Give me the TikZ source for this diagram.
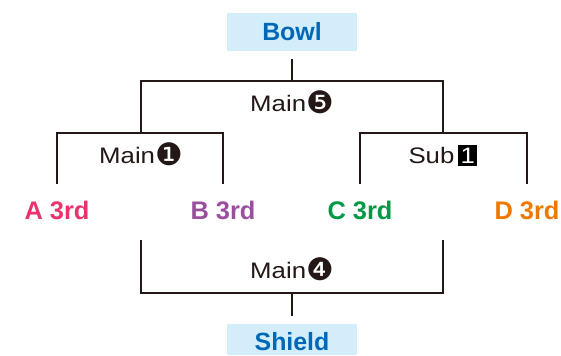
\documentclass[tikz,border=0pt]{standalone}
\usepackage{fontspec}
\setmainfont{Liberation Sans}
\newfontfamily\matchfont[FakeStretch=1.15]{Liberation Sans}
\newfontfamily\dingfont{DejaVu Sans}
\usepackage{xcolor}

\definecolor{finalblue}{HTML}{0068B7}
\definecolor{finalfill}{HTML}{D3EDFB}
\definecolor{teamA}{HTML}{E8336D}
\definecolor{teamB}{HTML}{9A4E9E}
\definecolor{teamC}{HTML}{009944}
\definecolor{teamD}{HTML}{EE7800}
\definecolor{linecol}{HTML}{231815}

\newcommand{\numbox}[1]{{\setlength{\fboxsep}{2.5bp}\colorbox{black}{\textcolor{white}{#1}}}}
\newcommand{\numcirc}[1]{{\dingfont\fontsize{31}{31}\selectfont\raisebox{-2.5bp}{#1}}}

\begin{document}
\begin{tikzpicture}[x=1bp,y=-1bp,%
% common options for the two final boxes:
final/.style = {fill=finalfill, text=finalblue, font=\fontsize{25}{25}\selectfont\bfseries,
            minimum width=130bp, minimum height=38bp, inner sep=0},
% team names:
team/.style = {font=\fontsize{25.5}{25.5}\selectfont\bfseries, inner sep=0,
            text height=17bp, text depth=0pt},
% match names:
match/.style = {font=\matchfont\fontsize{22.5}{22.5}\selectfont, inner sep=0, text=linecol,
            text height=16bp, text depth=0pt},
% bracket lines:
bracket/.style = {draw=linecol, line width=2bp}]
\useasboundingbox (0,0) rectangle (561,355);
\node[final] (bowl) at (292,31.5) {Bowl};
\node[final,anchor=north,minimum height=31bp,text height=21bp,text depth=0pt] (shield) at (292,324) {Shield};
\node[team,text=teamA] (a3) at (57,211) {A 3rd};
\node[team,text=teamB] (b3) at (223,211) {B 3rd};
\node[team,text=teamC] (c3) at (360,211) {C 3rd};
\node[team,text=teamD] (d3) at (527,211) {D 3rd};
\node[match] (m5) at (292,103) {Main\numcirc{❺}};
\node[match] (m1) at (141,155) {Main\numcirc{❶}};
\node[match] (s1) at (443,155) {Sub\,\numbox{1}};
\node[match] (m4) at (292,270) {Main\numcirc{❹}};
\coordinate (j5) at (292,81);
\coordinate (j1) at (141,133);
\coordinate (js) at (443,133);
\coordinate (j4) at (292,293);
\coordinate (tips) at (0,184);
\coordinate (low) at (0,240);
\draw[bracket] ([yshift=-8bp]bowl.south) -- (j5);
\draw[bracket] (j1) |- (j5) -| (js);
\draw[bracket] (a3 |- tips) |- (j1) -| (b3 |- tips);
\draw[bracket] (c3 |- tips) |- (js) -| (d3 |- tips);
\draw[bracket] (m1 |- low) |- (j4) -| (s1 |- low);
\draw[bracket] (j4) -- ([yshift=8bp]shield.north);
\end{tikzpicture}
\end{document}
